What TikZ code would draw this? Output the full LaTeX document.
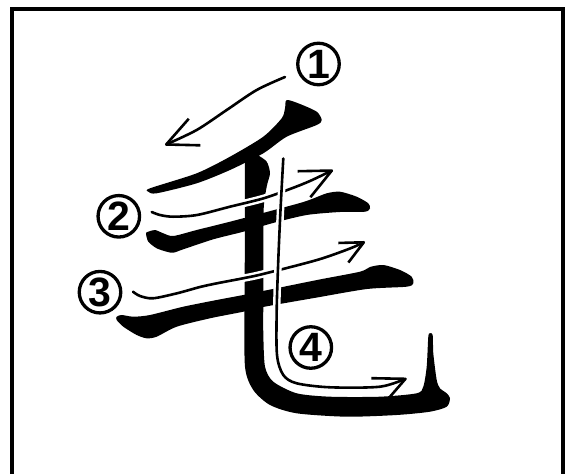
\documentclass[tikz,border=0pt]{standalone}
\usepackage{fontspec}
\setsansfont{Liberation Sans}
\usetikzlibrary{arrows.meta}

\begin{document}
\begin{tikzpicture}[x=1pt,y=-1pt,
    num/.style={circle,draw,fill=white,line width=3.3pt,minimum size=41.5pt,inner sep=0pt,font=\sffamily\bfseries\fontsize{41}{41}\selectfont},
    guide/.style={line width=2.6pt,line cap=round,line join=round,preaction={draw=white,line width=7.5pt,-},-{Straight Barb[length=31pt,width=29pt,line join=round]}},
    shortguide/.style={guide,-{Straight Barb[length=23pt,width=22pt,line join=round]}}]
  \useasboundingbox (0,0) rectangle (566,474);
  % frame
  \draw[line width=4pt] (11.5,474) -- (11.5,8.5) -- (563,8.5) -- (563,474);
  % stroke 1
  \fill plot[smooth cycle,tension=0.45] coordinates {(286.7,100) (300,104) (316.7,111.7) (321.7,120) (316.7,125) (286.7,136.7) (263.3,153.3) (230,170) (196.7,183.3) (156.7,193.3) (148.3,191.7) (150,188.3) (196.7,173.3) (230,156.7) (263.3,136.7) (281.7,118.3) (285,108.3)};
  % stroke 2
  \fill plot[smooth cycle,tension=0.45] coordinates {(146,233.3) (148.3,231.7) (155,230) (163.3,233.3) (173.3,236) (196.7,230) (230,221.7) (263,213) (300,203) (312,199) (326.7,193.3) (340,191.7) (356.7,196.7) (368.3,203.3) (370,208.3) (365,211.7) (340,212) (306.7,215) (273,223) (243.3,231.7) (213.3,239.3) (183.3,249.3) (173.3,252.7) (166.7,251.7) (156.7,248.3) (148.3,241.7)};
  % stroke 3
  \fill plot[smooth cycle,tension=0.45] coordinates {(116.7,316.7) (121.7,315) (133.3,316.7) (150,315) (183.3,306.7) (216.7,300) (243.3,295) (263,291) (317,280) (360,271.7) (370,267) (383.3,265) (400,270) (411.7,276.7) (413.3,283.3) (406.7,286.7) (367,289) (317,297.5) (263,307) (243.3,311.7) (210,318.3) (176.7,326.7) (156.7,336.7) (146.7,338.3) (136.7,335) (123.3,326.7) (116.7,320)};
  % stroke 4
  \fill plot[smooth cycle,tension=0.45] coordinates {(247,156.7) (256.7,155) (266.7,161.7) (270,173.3) (266.7,186.7) (263.5,213) (263.3,300) (263.3,333.3) (265,366.7) (273.3,381.7) (296.7,393.3) (330,396.7) (380,396.7) (416.7,393.3) (423.3,386.7) (426.7,366.7) (428.3,336.7) (430,333.3) (432.7,335) (433.3,353.3) (436.7,380) (440,388.3) (446.7,393.3) (450,398.3) (446.7,406.7) (430,411.7) (396.7,415) (346.7,416.7) (296.7,413.3) (270,405) (253.3,390) (245,366.7) (244.5,300) (245,230) (245,163.3)};
  % order arrows
  \draw[guide] plot[smooth] coordinates {(285,77) (256.7,90) (226.7,110) (196.7,130) (165,145)};
  \draw[guide] plot[smooth] coordinates {(151.7,212) (160,215) (173,216.7) (197,215) (230,206.7) (263,198.5) (290,189) (310,181) (333,170)};
  \draw[shortguide] plot[smooth] coordinates {(133,291.7) (140,296) (153,298.3) (177,293.3) (200,287) (217,283.3) (243,278.3) (263,274) (317,260) (350,248.5) (365,241.7)};
  \draw[guide] plot[smooth] coordinates {(283.3,158.5) (280.5,210) (278.3,260) (276.7,310) (277,355) (283.3,375) (296.7,383.3) (330,387.3) (380,386.7) (406.7,378.3)};
  % stroke numbers
  \node[num] (n1) at (318.5,64) {1};
  \node[num] (n2) at (118.8,216.3) {2};
  \node[num] (n3) at (100,292.2) {3};
  \node[num] (n4) at (310.8,347.5) {4};
\end{tikzpicture}
\end{document}
